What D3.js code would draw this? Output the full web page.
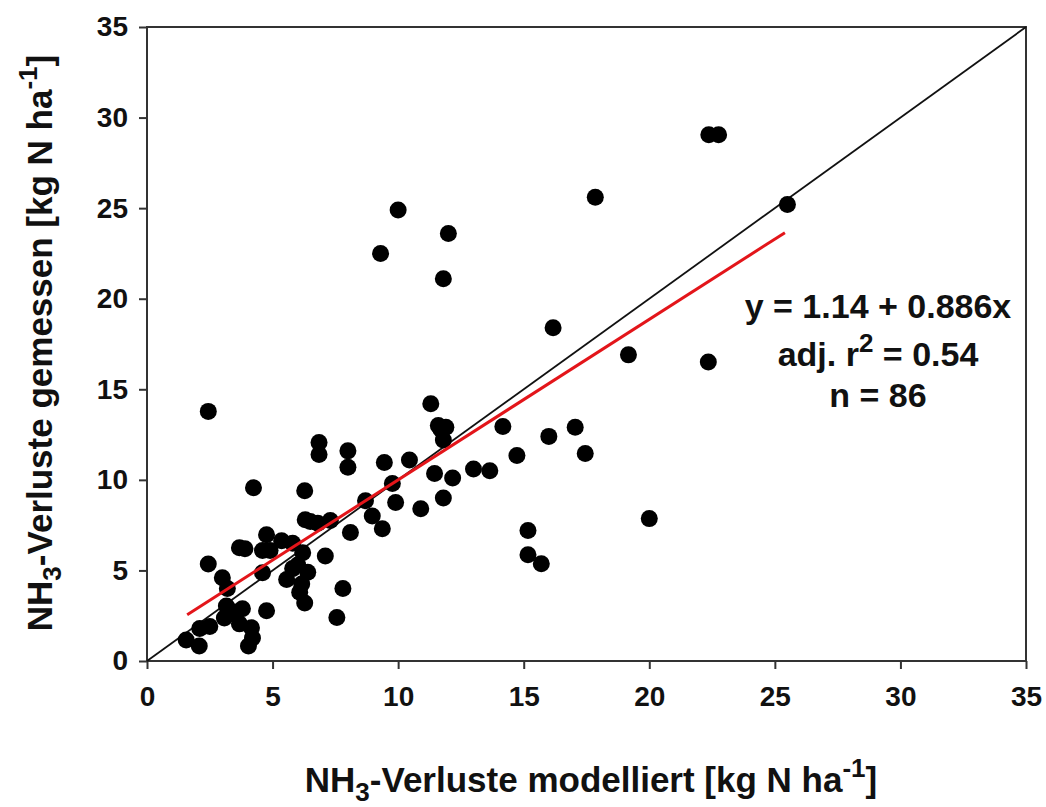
<!DOCTYPE html>
<html>
<head>
<meta charset="utf-8">
<script src="https://cdn.jsdelivr.net/npm/d3@7"></script>
<style>
  body { margin: 0; background: #fff; }
  svg text { font-family: "Liberation Sans", Arial, sans-serif; font-weight: bold; fill: #111; }
</style>
</head>
<body>
<svg id="chart" width="1046" height="807"></svg>
<script>
'use strict';

// modelled NH3 losses (x) and measured NH3 losses (y), kg N/ha
var modelled = [
  1.56, 2.08, 2.1, 2.5, 2.44, 2.44, 3.0, 3.2, 3.16, 3.28, 3.08, 3.8, 3.68, 4.16, 4.2, 4.04,
  3.68, 3.9, 4.24, 4.6, 4.6, 4.76, 4.76, 5.36, 5.8, 5.56, 5.8, 6.2, 6.4, 6.16, 6.08, 6.28,
  6.28, 6.3, 6.8, 7.3, 7.1, 7.8, 7.56, 6.85, 6.85, 8.0, 8.0, 8.1, 8.7, 8.97, 9.37, 9.45,
  9.77, 9.9, 10.45, 10.9, 11.3, 11.6, 11.9, 11.8, 11.45, 12.17, 11.8, 13.0, 13.65, 14.17,
  14.73, 15.17, 15.17, 15.7, 16.0, 17.05, 17.45, 16.17, 19.17, 22.35, 20.0, 9.3, 10.0, 12.0,
  11.8, 17.85, 22.37, 22.76, 25.5, 3.5, 6.0, 6.5, 11.7, 4.9
];
var measured = [
  1.16, 0.83, 1.8, 1.9, 5.35, 13.78, 4.6, 4.0, 3.04, 2.6, 2.38, 2.88, 2.05, 1.83, 1.27, 0.83,
  6.25, 6.2, 9.57, 6.1, 4.87, 6.97, 2.77, 6.64, 6.5, 4.5, 5.1, 5.98, 4.9, 4.25, 3.8, 3.2,
  9.4, 7.8, 7.6, 7.75, 5.8, 4.0, 2.4, 12.06, 11.4, 11.6, 10.7, 7.1, 8.85, 8.0, 7.3, 10.96,
  9.8, 8.75, 11.1, 8.4, 14.2, 13.0, 12.9, 12.2, 10.35, 10.1, 9.0, 10.6, 10.5, 12.95,
  11.35, 7.2, 5.87, 5.37, 12.4, 12.9, 11.46, 18.4, 16.9, 16.5, 7.86, 22.5, 24.9, 23.6,
  21.1, 25.6, 29.05, 29.05, 25.2, 2.7, 5.3, 7.7, 12.8, 6.1
];

var xTicks = [0, 5, 10, 15, 20, 25, 30, 35];
var yTicks = [0, 5, 10, 15, 20, 25, 30, 35];

// fitted regression: y = 1.14 + 0.886x, fitted range of x
var fitIntercept = 1.14;
var fitSlope = 0.886;
var fitRange = [1.6, 25.4];
var statsLines = ['y = 1.14 + 0.886x', 'adj. r2 = 0.54', 'n = 86'];

var X0 = 147, X1 = 1026, Y0 = 661, Y1 = 27;

var x = d3.scaleLinear().domain([0, 35]).range([X0, X1]);
var y = d3.scaleLinear().domain([0, 35]).range([Y0, Y1]);

var svg = d3.select('#chart');

var points = modelled.map(function(d, i) {
    return { x: d, y: measured[i] };
});

// frame
svg.append('rect')
    .attr('x', X0)
    .attr('y', Y1)
    .attr('width', X1 - X0)
    .attr('height', Y0 - Y1)
    .attr('fill', 'none')
    .attr('stroke', '#333')
    .attr('stroke-width', 2);

var axisX = d3.axisBottom(x).tickValues(xTicks).tickSize(8).tickSizeOuter(0).tickPadding(12);
var axisY = d3.axisLeft(y).tickValues(yTicks).tickSize(8).tickSizeOuter(0).tickPadding(11);

var gx = svg.append('g')
    .attr('transform', 'translate(0,' + Y0 + ')')
    .call(axisX);

var gy = svg.append('g')
    .attr('transform', 'translate(' + X0 + ',0)')
    .call(axisY);

[gx, gy].forEach(function(g) {
    g.select('.domain').remove();
    g.selectAll('line').attr('stroke', '#333').attr('stroke-width', 2);
    g.selectAll('text')
        .attr('font-size', 28)
        .attr('font-family', '"Liberation Sans", Arial, sans-serif')
        .attr('font-weight', 'bold')
        .attr('fill', '#111');
});
gx.selectAll('text').attr('dy', '0.9em');

// 1:1 line
svg.append('line')
    .attr('x1', x(0))
    .attr('y1', y(0))
    .attr('x2', x(35))
    .attr('y2', y(35))
    .attr('stroke', '#111')
    .attr('stroke-width', 1.8);

// points
svg.append('g')
    .selectAll('circle')
    .data(points)
    .enter()
    .append('circle')
    .attr('cx', function(d) { return x(d.x); })
    .attr('cy', function(d) { return y(d.y); })
    .attr('r', 8.5)
    .attr('fill', '#000');

// regression line
svg.append('line')
    .attr('x1', x(fitRange[0]))
    .attr('y1', y(fitIntercept + fitSlope * fitRange[0]))
    .attr('x2', x(fitRange[1]))
    .attr('y2', y(fitIntercept + fitSlope * fitRange[1]))
    .attr('stroke', '#e3151a')
    .attr('stroke-width', 3);

// stats text
var stats = svg.append('g')
    .attr('font-size', 34)
    .attr('text-anchor', 'middle');

stats.append('text')
    .attr('x', 878)
    .attr('y', 318)
    .text(statsLines[0]);

var r2 = stats.append('text')
    .attr('x', 878)
    .attr('y', 366);
r2.append('tspan').text('adj. r');
r2.append('tspan').attr('font-size', 26).attr('dy', -14).text('2');
r2.append('tspan').attr('dy', 14).text(' = 0.54');

stats.append('text')
    .attr('x', 878)
    .attr('y', 407)
    .text(statsLines[2]);

function axisTitle(sel, middle) {
    sel.append('tspan').text('NH');
    sel.append('tspan').attr('font-size', 26).attr('dy', 9).text('3');
    sel.append('tspan').attr('dy', -9).text('-Verluste ' + middle + ' [kg N ha');
    sel.append('tspan').attr('font-size', 26).attr('dy', -15).text('-1');
    sel.append('tspan').attr('dy', 15).text(']');
}

var titleX = svg.append('text')
    .attr('x', 591)
    .attr('y', 792)
    .attr('font-size', 35)
    .attr('text-anchor', 'middle');
axisTitle(titleX, 'modelliert');

var titleY = svg.append('text')
    .attr('transform', 'translate(52,343) rotate(-90)')
    .attr('font-size', 35)
    .attr('text-anchor', 'middle');
axisTitle(titleY, 'gemessen');
</script>
</body>
</html>
